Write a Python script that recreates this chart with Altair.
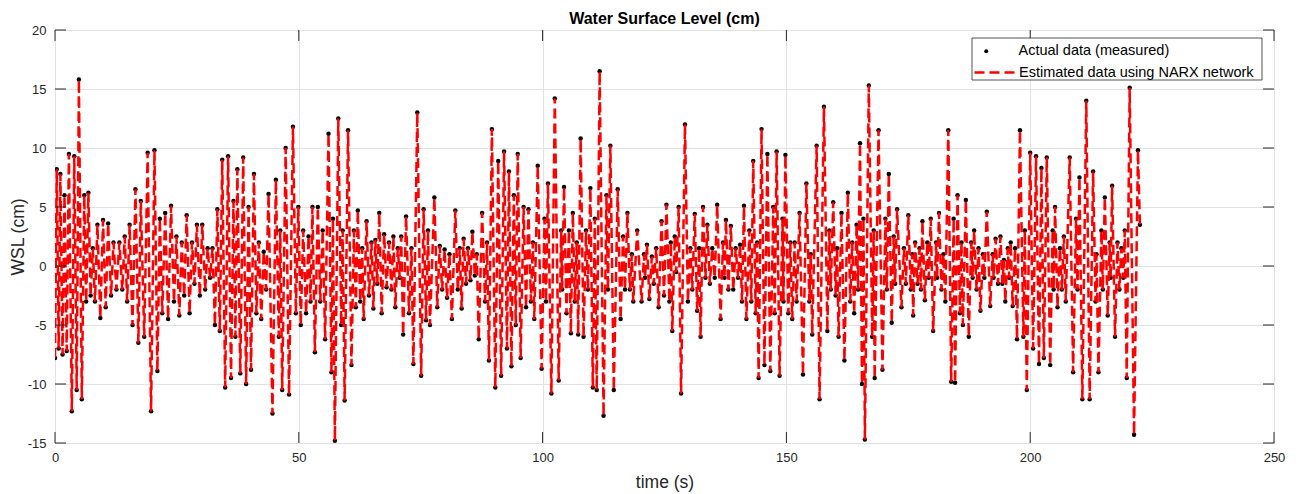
import altair as alt
import pandas as pd

# ---- data: (time s, WSL cm) at successive crests/troughs ----
seg_00_18 = [(0.0,-7.8),(0.35,8.2),(0.75,-7.0),(1.1,7.8),(1.55,-7.5),(1.95,6.0),(2.4,-7.2),(2.85,9.5),
             (3.45,-12.3),(3.95,9.3),(4.45,-10.5),(4.9,15.8),(5.5,-11.3),(6.0,6.0),(6.4,-3.0),(6.85,6.2),
             (7.3,-2.5),(7.75,1.5),(8.2,-3.0),(8.7,3.5),(9.3,-4.4),(9.85,3.9),(10.4,-3.5),(10.9,3.6),
             (11.5,-2.5),(12.0,2.0),(12.6,-2.0),(13.2,2.0),(13.8,-2.0),(14.3,2.5),(14.8,-3.0),(15.3,3.5),
             (15.9,-5.0),(16.5,6.5),(17.1,-6.5),(17.6,5.5)]
seg_18_36 = [(18.3,-6.0),(19.0,9.6),(19.7,-12.3),(20.4,9.8),(21.0,-8.9),(21.5,4.0),(22.0,-4.0),(22.6,4.5),
             (23.2,-4.5),(23.8,5.1),(24.4,-3.0),(24.9,2.5),(25.5,-4.2),(26.0,2.0),(26.5,-2.5),(27.0,4.3),
             (27.6,-4.0),(28.1,2.0),(28.6,-1.5),(29.1,3.5),(29.7,-2.5),(30.2,3.5),(30.8,-2.0),(31.3,1.5),
             (31.8,-1.0),(32.3,1.5),(32.8,-5.0),(33.3,4.8),(33.8,-5.5),(34.3,9.0),(34.9,-10.3),(35.5,9.3)]
seg_36_54 = [(36.1,-9.5),(36.6,5.5),(37.0,-6.0),(37.4,8.2),(38.0,-9.1),(38.6,9.2),(39.2,-10.0),(39.7,5.0),
             (40.2,-8.8),(40.8,7.8),(41.3,-4.0),(41.8,2.0),(42.3,-4.5),(42.8,1.2),(43.3,-2.0),(43.8,6.1),
             (44.6,-12.5),(45.3,7.3),(45.9,-6.0),(46.2,3.0),(46.6,-10.5),(47.3,10.0),(48.0,-10.9),(48.8,11.8),
             (49.4,-4.0),(49.9,5.0),(50.4,-5.0),(50.9,3.0),(51.5,-4.0),(52.0,2.5),(52.4,-3.0),(52.8,5.0),
             (53.3,-7.3),(53.9,5.0),(54.4,-3.0)]
seg_54_73 = [(54.9,3.0),(55.4,-6.2),(56.1,11.2),(56.7,-9.0),(57.0,4.0),(57.4,-14.8),(58.1,12.5),(58.7,-5.0),
             (59.0,3.0),(59.4,-11.4),(60.1,11.5),(60.8,-8.4),(61.3,3.0),(61.7,-3.5),(62.1,4.7),(62.6,-3.0),
             (63.0,1.5),(63.3,-4.5),(63.9,3.8),(64.4,-2.5),(64.9,2.0),(65.3,-3.6),(65.7,2.2),(66.1,-1.5),
             (66.5,4.5),(67.0,-4.0),(67.5,2.7),(68.0,-1.8),(68.5,2.0),(69.0,-2.0),(69.4,2.5),(69.8,-3.5),
             (70.3,1.5),(70.7,-1.0),(71.0,2.5),(71.4,-5.8),(72.0,4.2),(72.6,-4.0)]
seg_73_91 = [(73.1,1.5),(73.5,-8.3),(74.3,13.0),(75.1,-9.3),(75.6,4.8),(76.1,-4.6),(76.5,3.0),(76.9,-5.0),
             (77.8,5.8),(78.4,-3.5),(78.9,1.7),(79.4,-2.0),(79.9,1.4),(80.4,-2.7),(80.9,1.0),(81.4,-4.5),
             (82.1,4.7),(82.6,-2.0),(83.0,1.5),(83.4,-3.6),(83.8,2.3),(84.3,-1.5),(84.7,1.5),(85.2,-1.2),
             (85.6,2.9),(86.1,-0.8),(86.5,1.0),(86.9,-6.2),(87.6,4.5),(88.2,-3.0),(88.6,2.0),(89.0,-8.0),
             (89.6,11.6),(90.3,-10.3),(90.9,8.9)]
seg_91_110 = [(91.5,-9.3),(92.1,9.7),(92.7,-7.0),(93.1,8.0),(93.6,-8.5),(94.1,6.0),(94.5,-5.0),(94.9,9.5),
              (95.5,-7.8),(96.1,5.0),(96.6,-3.5),(97.1,4.8),(97.6,-3.0),(98.0,2.0),(98.3,-4.5),(99.0,8.5),
              (99.8,-8.7),(100.4,4.0),(100.7,-3.0),(101.1,7.0),(101.8,-10.8),(102.5,14.2),(103.3,-9.7),
              (103.8,3.0),(104.0,-2.0),(104.4,6.7),(104.9,-4.0),(105.4,3.0),(105.8,-5.7),(106.2,4.5),
              (106.6,-3.0),(107.0,2.0),(107.3,-5.8),(107.8,10.8),(108.4,-6.0),(108.9,3.0),(109.3,-2.0),
              (109.8,6.6)]
seg_110_128 = [(110.3,-10.3),(110.7,4.0),(111.1,-10.5),(111.7,16.5),(112.5,-12.7),(113.1,6.0),(113.4,-2.0),
               (113.9,10.2),(114.6,-10.5),(115.4,6.5),(116.0,-4.5),(116.5,2.5),(116.9,-2.0),(117.4,4.5),
               (117.9,-2.0),(118.3,1.0),(118.6,-3.0),(119.4,3.0),(120.3,-3.0),(120.8,1.0),(121.0,-1.0),
               (121.4,1.8),(121.9,-2.8),(122.4,0.8),(122.8,-1.5),(123.3,1.5),(123.8,-3.5),(124.4,3.8),
               (124.9,-2.5),(125.4,5.2),(126.0,-3.0),(126.3,2.0),(126.6,-5.5),(127.1,2.5),(127.4,-0.5),
               (127.9,5.0),(128.4,-10.8)]
seg_128_146 = [(129.2,12.0),(129.8,-3.0),(130.3,1.5),(130.7,-2.0),(131.2,4.4),(131.7,-3.8),(132.1,1.5),
               (132.4,-6.0),(132.9,5.0),(133.4,-1.0),(133.8,3.5),(134.3,-1.5),(134.8,1.5),(135.3,-1.0),
               (135.8,5.2),(136.5,-4.5),(137.0,2.0),(137.3,-1.0),(137.6,3.9),(138.1,-2.0),(138.6,3.4),
               (139.1,-2.0),(139.6,1.5),(140.1,-1.0),(140.5,1.8),(140.9,-3.0),(141.3,5.1),(141.8,-4.5),
               (142.4,3.0),(142.8,-3.0),(143.2,8.9),(143.7,-4.0),(144.0,2.0),(144.3,-9.5),(144.9,11.6),
               (145.5,-8.4),(146.1,9.5)]
seg_146_165 = [(146.7,-8.9),(147.3,5.0),(147.6,-4.0),(148.0,9.7),(148.6,-9.3),(149.2,4.0),(149.4,-3.0),
               (149.8,9.4),(150.4,-4.0),(150.8,2.0),(151.2,-4.5),(151.7,2.0),(152.1,-3.0),(152.7,4.5),
               (153.4,-9.2),(154.1,7.0),(154.7,-3.0),(155.0,1.0),(155.3,-5.8),(156.2,10.2),(156.8,-11.3),
               (157.7,13.5),(158.4,-5.5),(158.8,3.0),(159.1,-2.0),(159.6,5.4),(160.1,-2.5),(160.4,1.5),
               (160.7,-6.0),(161.3,4.5),(161.9,-8.0),(162.6,6.2),(163.1,-3.0),(163.5,2.0),(163.9,-4.0),
               (164.4,3.5),(164.7,-2.0),(165.1,10.4)]
seg_165_184 = [(165.5,-10.0),(165.8,4.0),(166.1,-14.7),(166.9,15.3),(167.6,-6.0),(167.9,3.0),(168.1,-9.5),
               (168.9,11.5),(169.7,-8.8),(170.3,4.0),(170.6,-2.0),(171.0,7.8),(171.6,-4.8),(172.0,2.5),
               (172.3,-1.5),(172.7,4.8),(173.6,-3.5),(174.1,1.5),(174.5,-1.5),(175.0,4.3),(175.5,-2.0),
               (175.8,1.0),(176.0,-4.2),(176.4,2.0),(176.9,-1.5),(177.3,1.5),(177.6,-2.0),(177.9,3.8),
               (178.4,-2.9),(178.9,2.0),(179.2,-1.0),(179.6,4.0),(180.1,-5.5),(180.7,2.0),(180.9,-1.0),
               (181.3,4.5),(181.8,-2.0),(182.2,1.0),(182.6,-3.0),(183.2,11.5),(183.8,-9.8)]
seg_184_202 = [(184.3,4.0),(184.6,-9.9),(185.1,6.0),(185.6,-4.0),(185.9,2.0),(186.2,-5.0),(186.8,5.6),
               (187.4,-6.0),(187.9,2.0),(188.2,-1.0),(188.5,3.0),(189.0,-2.0),(189.4,1.5),(189.8,-3.8),
               (190.3,1.0),(190.6,-1.0),(191.1,4.6),(191.8,-3.4),(192.3,1.0),(192.5,-1.0),(192.9,2.3),
               (193.4,-1.5),(193.9,2.5),(194.3,-1.5),(194.6,0.5),(194.9,-3.0),(195.4,1.5),(195.7,-1.0),
               (196.0,2.0),(196.4,-3.4),(196.9,1.5),(197.3,-6.2),(197.9,11.5),(198.6,-6.0),(198.9,3.0),
               (199.3,-10.5),(200.0,9.6),(200.6,-7.0),(201.2,9.3),(201.8,-8.3)]
seg_202_223 = [(202.3,8.3),(202.8,-7.8),(203.4,9.2),(204.1,-8.4),(204.6,3.0),(204.8,-2.0),(205.1,5.0),
               (205.6,-3.5),(206.1,1.5),(206.5,-2.0),(206.9,2.5),(207.3,-3.0),(208.1,9.2),(208.8,-9.0),
               (209.4,4.0),(209.7,-2.0),(210.1,7.5),(210.7,-11.3),(211.5,14.0),(212.2,-11.3),(212.9,8.0),
               (213.4,-3.0),(213.6,1.0),(214.0,-9.0),(214.6,3.0),(214.9,-2.0),(215.3,5.8),(215.9,-4.2),
               (216.3,2.0),(216.5,-1.0),(216.8,6.8),(217.4,-6.0),(217.9,2.0),(218.3,-2.0),(218.7,1.5),
               (219.1,-1.0),(219.4,3.0),(219.8,-9.5),(220.4,15.1),(221.3,-14.3),(222.1,9.8),(222.5,3.5)]

x_ticks = [0, 50, 100, 150, 200, 250]
y_ticks = [-15, -10, -5, 0, 5, 10, 15, 20]
series_actual = "Actual data (measured)"
series_est = "Estimated data using NARX network"
chart_title = "Water Surface Level (cm)"
x_title = "time (s)"
y_title = "WSL (cm)"

segments = [seg_00_18, seg_18_36, seg_36_54, seg_54_73, seg_73_91, seg_91_110,
            seg_110_128, seg_128_146, seg_146_165, seg_165_184, seg_184_202, seg_202_223]
rows = [p for s in segments for p in s]
df = pd.DataFrame({"t": [p[0] for p in rows], "wsl": [p[1] for p in rows]})
df["actual"] = series_actual
df["est"] = series_est

W, H = 1219, 413
AX = "#262626"
FONT = "Liberation Sans"
TICK = 11

xs = alt.Scale(domain=[0, 250], nice=False, zero=False)
ys = alt.Scale(domain=[-15, 20], nice=False, zero=False)

xaxis = alt.Axis(values=x_ticks, title=x_title, grid=True, domain=False, ticks=False, tickSize=0,
                 labelPadding=8, labelFontSize=13, labelColor=AX, labelFont=FONT, labelFlush=False,
                 labelExpr="datum.value + ''", titleFont=FONT, titleFontSize=17.5,
                 titleFontWeight="normal", titleColor=AX, titleY=39, titleBaseline="middle")
yaxis = alt.Axis(values=y_ticks, title=y_title, grid=True, domain=False, ticks=False, tickSize=0,
                 labelPadding=9, labelFontSize=13, labelColor=AX, labelFont=FONT, labelFlush=False,
                 labelExpr="datum.value + ''", titleFont=FONT, titleFontSize=17.5,
                 titleFontWeight="normal", titleColor=AX, titleX=-37, titleBaseline="middle")

pts = alt.Chart(df).mark_point(filled=True, size=20, opacity=1, color="black", clip=True).encode(
    x=alt.X("t:Q", scale=xs, axis=xaxis),
    y=alt.Y("wsl:Q", scale=ys, axis=yaxis),
    shape=alt.Shape("actual:N", scale=alt.Scale(domain=[series_actual], range=["circle"]),
                    legend=alt.Legend(title=None, orient="none", legendX=924, legendY=14,
                                      symbolSize=16, symbolFillColor="black", symbolStrokeWidth=0,
                                      labelOffset=25, labelFont=FONT, labelFontSize=14.5,
                                      labelColor="black", labelLimit=400, padding=0)),
)

ln = alt.Chart(df).mark_line(color="#ff0000", strokeWidth=2.5, clip=True).encode(
    x=alt.X("t:Q", scale=xs, axis=xaxis),
    y=alt.Y("wsl:Q", scale=ys, axis=yaxis),
    strokeDash=alt.StrokeDash("est:N", scale=alt.Scale(domain=[series_est], range=[[10, 5]]),
                              legend=alt.Legend(title=None, orient="none", legendX=918, legendY=21,
                                                symbolType="stroke", symbolSize=1600,
                                                symbolStrokeColor="#ff0000", symbolStrokeWidth=2.3,
                                                labelOffset=3, labelFont=FONT, labelFontSize=14.5,
                                                labelColor="black", labelLimit=400, padding=0)),
)

xt = pd.DataFrame({"t": x_ticks})
yt = pd.DataFrame({"wsl": y_ticks})
tick_x_bottom = alt.Chart(xt).mark_rule(color=AX, strokeWidth=1).encode(
    x=alt.X("t:Q", scale=xs, axis=xaxis), y=alt.value(H), y2=alt.value(H - TICK))
tick_x_top = alt.Chart(xt).mark_rule(color=AX, strokeWidth=1).encode(
    x=alt.X("t:Q", scale=xs, axis=xaxis), y=alt.value(0), y2=alt.value(TICK))
tick_y_left = alt.Chart(yt).mark_rule(color=AX, strokeWidth=1).encode(
    y=alt.Y("wsl:Q", scale=ys, axis=yaxis), x=alt.value(0), x2=alt.value(TICK))
tick_y_right = alt.Chart(yt).mark_rule(color=AX, strokeWidth=1).encode(
    y=alt.Y("wsl:Q", scale=ys, axis=yaxis), x=alt.value(W), x2=alt.value(W - TICK))

legend_box = alt.Chart(pd.DataFrame({"k": [0]})).mark_rect(
    fill="white", stroke=AX, strokeWidth=0.8).encode(
    x=alt.value(917), x2=alt.value(1207), y=alt.value(8), y2=alt.value(50))

chart = alt.layer(pts, ln, tick_x_bottom, tick_x_top, tick_y_left, tick_y_right, legend_box).properties(
    width=W, height=H,
    title=alt.TitleParams(text=chart_title, font=FONT, fontSize=16, fontWeight="bold",
                          color="black", anchor="middle", offset=-3),
    padding={"left": 47, "top": 22, "right": 12, "bottom": 50},
    autosize=alt.AutoSizeParams(type="none"),
).configure_view(stroke=AX, strokeWidth=1).configure_axis(gridColor="#e2e2e2", gridWidth=1)

chart.save("out.html", embed_options={"renderer": "svg", "actions": False})
